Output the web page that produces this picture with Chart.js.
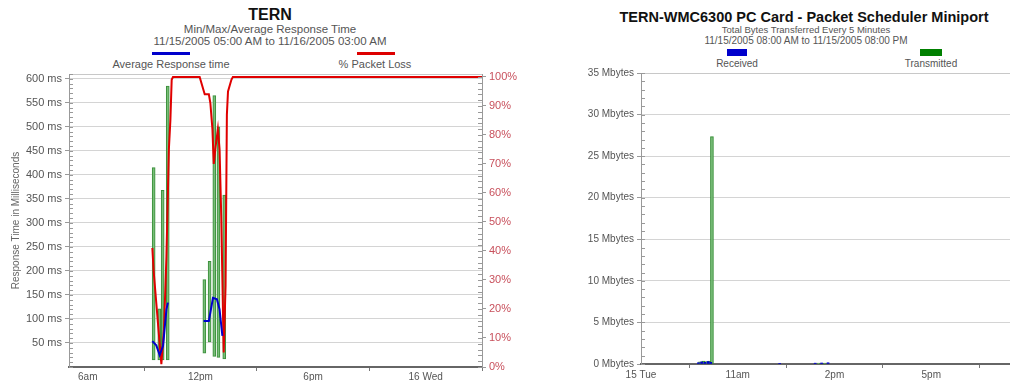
<!DOCTYPE html>
<html>
<head>
<meta charset="utf-8">
<script src="https://cdn.jsdelivr.net/npm/chart.js@4.4.1/dist/chart.umd.min.js"></script>
<style>
  body { margin: 0; width: 1010px; height: 381px; overflow: hidden; position: relative; background: #fff;
         font-family: "Liberation Sans", Arial, sans-serif; }
  .c { position: absolute; width: 600px; text-align: center; white-space: nowrap; }
  .sw { position: absolute; }
  canvas { position: absolute; }
</style>
</head>
<body>
<div class="c" style="left:-30px;top:6px;font-size:16px;font-weight:bold;color:#111">TERN</div>
<div class="c" style="left:-30px;top:23px;font-size:11.5px;color:#555">Min/Max/Average Response Time</div>
<div class="c" style="left:-30px;top:35px;font-size:11.5px;color:#555">11/15/2005 05:00 AM to 11/16/2005 03:00 AM</div>
<div class="sw" style="left:152px;top:52px;width:38px;height:3px;background:#0000cc"></div>
<div class="sw" style="left:357px;top:52px;width:38px;height:3px;background:#dd0000"></div>
<div class="c" style="left:-129px;top:58px;font-size:11px;color:#555">Average Response time</div>
<div class="c" style="left:75px;top:58px;font-size:11px;color:#555">% Packet Loss</div>

<div class="c" style="left:504px;top:9px;font-size:14.5px;font-weight:bold;color:#111">TERN-WMC6300 PC Card - Packet Scheduler Miniport</div>
<div class="c" style="left:506px;top:24px;font-size:9.5px;color:#555">Total Bytes Transferred Every 5 Minutes</div>
<div class="c" style="left:506px;top:35px;font-size:10px;color:#555">11/15/2005 08:00 AM to 11/15/2005 08:00 PM</div>
<div class="sw" style="left:727px;top:49px;width:20px;height:7px;background:#0000cc"></div>
<div class="sw" style="left:920px;top:49px;width:22px;height:7px;background:#008000"></div>
<div class="c" style="left:437px;top:58px;font-size:10px;color:#555">Received</div>
<div class="c" style="left:631px;top:58px;font-size:10px;color:#555">Transmitted</div>

<canvas id="respChart" width="530" height="317" style="left:0;top:64px"></canvas>
<canvas id="bytesChart" width="468" height="317" style="left:560px;top:64px"></canvas>

<script>
// ---- left chart: response time (hours since midnight 11/15) ----
const rangeHours = [9.51, 9.81, 9.99, 10.26, 12.21, 12.49, 12.74, 12.96, 13.27];
const rangeMin = [15, 15, 15, 15, 29, 52, 22, 20, 17];
const rangeMax = [415, 121, 368, 585, 182, 220, 565, 500, 358];

const avgHours = [9.44, 9.65, 9.83, 10.01, 10.19, 10.27, 11.2, 12.17, 12.45, 12.67, 12.88, 13.02, 13.17];
const avgValues = [54, 45, 25, 44, 120, 134, null, 96, 96, 144, 141, 120, 65];

const lossHours = [9.44, 9.51, 9.92, 10.06, 10.19, 10.32, 10.40, 10.47, 10.54, 11.96, 12.23, 12.45, 12.53,
  12.64, 12.71, 12.81, 12.93, 13.02, 13.11, 13.24, 13.34, 13.41, 13.47, 13.65, 13.73, 27];
const lossValues = [41, 33, 1, 13, 38, 75, 85, 99, 100, 100, 94, 94, 91,
  82, 70, 76, 82, 75, 52, 5, 28, 87, 95, 99, 100, 100];

const respTickValues = [50, 100, 150, 200, 250, 300, 350, 400, 450, 500, 550, 600];
const respTickLabels = ['50 ms', '100 ms', '150 ms', '200 ms', '250 ms', '300 ms', '350 ms', '400 ms',
  '450 ms', '500 ms', '550 ms', '600 ms'];
const lossTickValues = [0, 10, 20, 30, 40, 50, 60, 70, 80, 90, 100];
const lossTickLabels = ['0%', '10%', '20%', '30%', '40%', '50%', '60%', '70%', '80%', '90%', '100%'];
const respTimeTicks = [6, 12, 18, 24];
const respTimeLabels = ['6am', '12pm', '6pm', '16 Wed'];

// ---- right chart: bytes transferred ----
const recvHours = [9.78, 9.88, 9.98, 10.08, 10.16, 12.3, 13.4, 13.6, 13.8];
const recvValues = [0.15, 0.25, 0.2, 0.3, 0.2, 0.08, 0.1, 0.12, 0.15];
const sentHours = [9.83, 9.93, 10.03, 10.12, 10.20, 13.5, 13.7];
const sentValues = [0.25, 0.35, 0.3, 0.35, 27.35, 0.1, 0.12];

const bytesTickValues = [0, 5, 10, 15, 20, 25, 30, 35];
const bytesTickLabels = ['0 Mbytes', '5 Mbytes', '10 Mbytes', '15 Mbytes', '20 Mbytes', '25 Mbytes',
  '30 Mbytes', '35 Mbytes'];
const bytesTimeTicks = [8, 11, 14, 17];
const bytesTimeLabels = ['15 Tue', '11am', '2pm', '5pm'];

Chart.defaults.font.family = '"Liberation Sans", Arial, sans-serif';
Chart.defaults.color = '#555';
Chart.defaults.animation = false;

// small inside tick marks along the value axes, plus a light frame line on top
const minorTicks = {
  id: 'minorTicks',
  afterDatasetsDraw(chart, args, opts) {
    const ctx = chart.ctx;
    const area = chart.chartArea;
    ctx.save();
    ctx.lineWidth = 1;
    ctx.strokeStyle = '#c8c8c8';
    ctx.beginPath();
    ctx.moveTo(area.left, area.top + 0.5);
    ctx.lineTo(area.right, area.top + 0.5);
    ctx.stroke();
    ctx.strokeStyle = '#999';
    (opts.marks || []).forEach(m => {
      const s = chart.scales[m.id];
      const x0 = m.dir > 0 ? s.right : s.left;
      for (let v = 0; v <= s.max; v += m.step) {
        const y = Math.round(s.getPixelForValue(v)) + 0.5;
        ctx.beginPath();
        ctx.moveTo(x0, y);
        ctx.lineTo(x0 + m.dir * m.len, y);
        ctx.stroke();
      }
    });
    ctx.restore();
  }
};

function setTicks(values) {
  return scale => { scale.ticks = values.map(v => ({ value: v })); };
}

new Chart(document.getElementById('respChart'), {
  type: 'bar',
  data: {
    datasets: [
      {
        type: 'line',
        label: 'Average Response time',
        data: avgHours.map((h, i) => ({ x: h, y: avgValues[i] })),
        borderColor: '#0000cc',
        borderWidth: 2,
        pointRadius: 0,
        spanGaps: false,
        yAxisID: 'y',
        order: 1
      },
      {
        type: 'line',
        label: '% Packet Loss',
        data: lossHours.map((h, i) => ({ x: h, y: lossValues[i] })),
        borderColor: '#e00000',
        borderWidth: 2,
        pointRadius: 0,
        yAxisID: 'y2',
        order: 2
      },
      {
        label: 'Min/Max',
        data: rangeHours.map((h, i) => ({ x: h, y: [rangeMin[i], rangeMax[i]] })),
        backgroundColor: 'rgba(120,190,120,0.9)',
        borderColor: '#3a8f3a',
        borderWidth: 1,
        borderSkipped: false,
        barThickness: 3,
        yAxisID: 'y',
        order: 3
      }
    ]
  },
  options: {
    responsive: false,
    layout: { padding: { top: 10, left: 0, right: 0, bottom: 0 } },
    plugins: {
      legend: { display: false },
      tooltip: { enabled: false },
      minorTicks: { marks: [{ id: 'y', step: 10, dir: 1, len: 4 }, { id: 'y2', step: 2, dir: -1, len: 4 }] }
    },
    scales: {
      x: {
        type: 'linear',
        min: 5,
        max: 27,
        offset: false,
        afterBuildTicks: setTicks(respTimeTicks),
        afterFit: s => { s.height = 14; },
        ticks: { callback: (v, i) => respTimeLabels[i], font: { size: 10 }, padding: 0, maxRotation: 0, color: '#555' },
        grid: { drawOnChartArea: false, tickLength: 4, color: '#777' },
        border: { color: '#666', width: 2 }
      },
      y: {
        position: 'left',
        min: 0,
        max: 610,
        afterBuildTicks: setTicks(respTickValues),
        afterFit: s => { s.width = 69; },
        ticks: { callback: (v, i) => respTickLabels[i], font: { size: 11 }, padding: 3, color: '#555' },
        grid: { color: '#d4d4d4', tickLength: 4, tickColor: '#999' },
        border: { color: '#999' },
        title: { display: true, text: 'Response Time in Milliseconds', font: { size: 10 }, color: '#666', padding: { top: 10, bottom: 0 } }
      },
      y2: {
        position: 'right',
        min: 0,
        max: 101,
        afterBuildTicks: setTicks(lossTickValues),
        afterFit: s => { s.width = 48; },
        ticks: { callback: (v, i) => lossTickLabels[i], font: { size: 11 }, padding: 3, color: '#c8505c' },
        grid: { drawOnChartArea: false, tickLength: 4, tickColor: '#999' },
        border: { color: '#999' }
      }
    }
  },
  plugins: [minorTicks]
});

new Chart(document.getElementById('bytesChart'), {
  type: 'bar',
  data: {
    datasets: [
      {
        label: 'Received',
        data: recvHours.map((h, i) => ({ x: h, y: recvValues[i] })),
        backgroundColor: '#0000cc',
        barThickness: 2,
        grouped: false,
        order: 1
      },
      {
        label: 'Transmitted',
        data: sentHours.map((h, i) => ({ x: h, y: sentValues[i] })),
        backgroundColor: 'rgba(120,190,120,0.9)',
        borderColor: '#2f8a2f',
        borderWidth: 1,
        borderSkipped: false,
        barThickness: 3,
        grouped: false,
        order: 2
      }
    ]
  },
  options: {
    responsive: false,
    layout: { padding: { top: 7, left: 0, right: 0, bottom: 0 } },
    plugins: {
      legend: { display: false },
      tooltip: { enabled: false },
      minorTicks: { marks: [{ id: 'y', step: 1, dir: 1, len: 4 }] }
    },
    scales: {
      x: {
        type: 'linear',
        min: 8,
        max: 20,
        offset: false,
        afterBuildTicks: setTicks(bytesTimeTicks),
        afterFit: s => { s.height = 17; },
        ticks: { callback: (v, i) => bytesTimeLabels[i], font: { size: 10 }, padding: 1, maxRotation: 0, color: '#555' },
        grid: { drawOnChartArea: false, tickLength: 4, color: '#777' },
        border: { color: '#666', width: 2 }
      },
      y: {
        position: 'left',
        min: 0,
        max: 35,
        afterBuildTicks: setTicks(bytesTickValues),
        afterFit: s => { s.width = 81; },
        ticks: { callback: (v, i) => bytesTickLabels[i], font: { size: 10 }, padding: 3, color: '#555' },
        grid: { color: '#d4d4d4', tickLength: 4, tickColor: '#999' },
        border: { color: '#999' }
      }
    }
  },
  plugins: [minorTicks]
});
</script>
</body>
</html>
